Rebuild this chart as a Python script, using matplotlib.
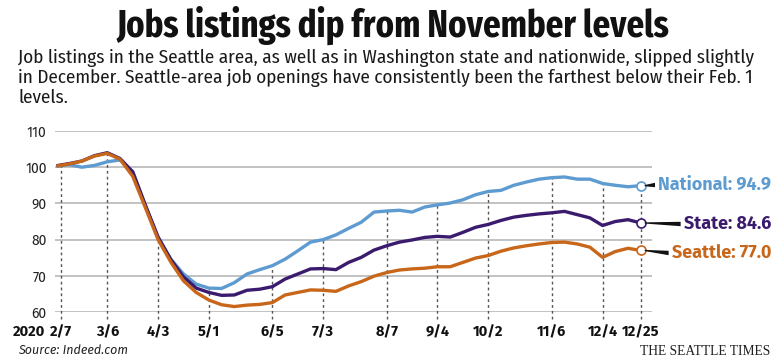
import matplotlib
matplotlib.use("Agg")
import matplotlib.pyplot as plt
from matplotlib import font_manager as fm
from matplotlib.patches import Polygon
from matplotlib.transforms import blended_transform_factory
import numpy as np

# ---------------- data ----------------
weeks = np.arange(47)
national = [100.3, 100.7, 100.0, 100.5, 101.5, 102.0, 98.8, 89.3, 80.5, 74.6,
            70.5, 67.7, 66.6, 66.5, 68.1, 70.5, 71.7, 72.8, 74.6, 76.9,
            79.3, 80.0, 81.3, 83.1, 84.8, 87.6, 87.9, 88.1, 87.6, 89.0,
            89.6, 90.1, 91.0, 92.4, 93.3, 93.6, 95.0, 95.9, 96.7, 97.1,
            97.3, 96.7, 96.7, 95.5, 95.0, 94.6, 94.9]
state = [100.4, 101.0, 101.7, 103.2, 104.0, 102.4, 98.7, 89.5, 80.7, 74.5,
         69.7, 66.6, 65.4, 64.6, 64.7, 66.0, 66.3, 67.0, 69.1, 70.5,
         71.9, 72.0, 71.7, 73.7, 75.1, 77.1, 78.3, 79.3, 79.9, 80.6,
         80.9, 80.7, 82.0, 83.4, 84.2, 85.3, 86.2, 86.7, 87.1, 87.4,
         87.8, 86.9, 86.0, 83.9, 85.0, 85.5, 84.6]
seattle = [100.3, 100.9, 101.7, 103.1, 103.8, 102.2, 97.5, 88.8, 80.0, 73.8,
           68.6, 65.4, 63.3, 62.0, 61.5, 61.9, 62.1, 62.6, 64.7, 65.4,
           66.1, 66.0, 65.7, 67.2, 68.4, 69.9, 70.9, 71.6, 71.9, 72.1,
           72.5, 72.5, 73.7, 74.9, 75.6, 76.8, 77.7, 78.3, 78.8, 79.2,
           79.3, 78.8, 77.9, 75.1, 76.7, 77.6, 77.0]
tick_labels = ["2/7", "3/6", "4/3", "5/1", "6/5", "7/3", "8/7", "9/4",
               "10/2", "11/6", "12/4", "12/25"]
tick_weeks = [0.35, 4, 8, 12, 17, 21, 26, 30, 34, 39, 43, 46]
y_ticks = [60, 70, 80, 90, 100, 110]
series_names = ["National", "State", "Seattle"]
series_colors = ["#5d9bd0", "#3b1b6e", "#c8661a"]

title = "Jobs listings dip from November levels"
subtitle = ["Job listings in the Seattle area, as well as in Washington state and nationwide, slipped slightly",
            "in December. Seattle-area job openings have consistently been the farthest below their Feb. 1",
            "levels."]

# ---------------- fonts ----------------
available = {f.name for f in fm.fontManager.ttflist}


def pick(*cands):
    for c in cands:
        if c in available:
            return c
    return "DejaVu Sans"


TF = pick("Fira Sans Extra Condensed", "Fira Sans Condensed", "Ubuntu Condensed",
          "Asap Condensed", "Archivo Narrow", "Open Sans")
CF = pick("Fira Sans Condensed", "Ubuntu Condensed", "Asap Condensed",
          "Archivo Narrow", "Open Sans")
SF = pick("Fira Sans", "Open Sans")
SERIF = pick("Liberation Serif", "DejaVu Serif")

W, H = 780, 364
fig = plt.figure(figsize=(W / 100, H / 100), dpi=100)
fig.patch.set_facecolor("white")


def P(x, y):
    return (x / W, 1 - y / H)


ax_left, ax_right, ax_top, ax_bot = 55, 652, 131, 312
ax = fig.add_axes([ax_left / W, 1 - ax_bot / H, (ax_right - ax_left) / W, (ax_bot - ax_top) / H])
ax.set_xlim(-0.118, 46.89)
ax.set_ylim(60, 110)
for s in ax.spines.values():
    s.set_visible(False)
ax.set_facecolor("none")
for yv in y_ticks:
    ax.axhline(yv, color="#bdbdbd", lw=1.3, zorder=1)

allmax = np.max(np.vstack([national, state, seattle]), axis=0)
for tw in tick_weeks:
    top = np.interp(tw, weeks, allmax)
    ax.plot([tw, tw], [58.2, top], color="#555555", lw=1.0, ls=(0, (2, 2.2)),
            zorder=2, clip_on=False)

for vals, c, z in zip([national, state, seattle], series_colors, [3, 4, 5]):
    ax.plot(weeks, vals, color=c, lw=2.4, zorder=z, solid_joinstyle="round",
            solid_capstyle="butt")
    ax.plot([weeks[-1]], [vals[-1]], marker="o", ms=6.5, mfc="white", mec=c,
            mew=1.2, zorder=7, clip_on=False)

ax.set_yticks(y_ticks)
ax.set_yticklabels([str(v) for v in y_ticks], family=SF, fontsize=10, color="#222222")
ax.tick_params(axis="y", length=0, pad=6)
ax.set_xticks([])

btr = blended_transform_factory(ax.transData, fig.transFigure)
for tw, lab in zip(tick_weeks, tick_labels):
    ax.text(tw, 1 - 336.5 / H, lab, transform=btr, family=SF, fontsize=10.5,
            fontweight="bold", color="#111111", ha="center", va="baseline")

fig.text(*P(13, 336.5), "2020", family=SF, fontsize=10.5, fontweight="bold",
         color="#111111", ha="left", va="baseline")

# title and subtitle
t_title = fig.text(*P(393, 37), title, family=TF, fontsize=26, fontweight="bold",
                   ha="center", va="baseline", color="#111111")
sub_texts = []
for i, line in enumerate(subtitle):
    sub_texts.append(fig.text(*P(18, 63 + 20 * i), line, family=CF, fontsize=12,
                              ha="left", va="baseline", color="#1a1a1a"))

t_src = fig.text(*P(18, 354), "Source: Indeed.com", family=SF, fontsize=9, style="italic",
                 ha="left", va="baseline", color="#222222")
t_st = fig.text(*P(770, 355), "THE SEATTLE TIMES", family=SERIF, fontsize=9,
                ha="right", va="baseline", color="#222222")

r = fig.canvas.get_renderer()


def fit(t, target):
    w = t.get_window_extent(r).width
    t.set_fontsize(t.get_fontsize() * target / w)


fit(t_title, 553)
fit(sub_texts[0], 739)
for s in sub_texts[1:]:
    s.set_fontsize(sub_texts[0].get_fontsize())
fit(t_st, 130)
fit(t_src, 110)

# end labels
label_y_px = [185, 224, 253]
lab_texts = []
for name, vals, c, ly in zip(series_names, [national, state, seattle], series_colors, label_y_px):
    t = fig.text(*P(771, ly), f"{name}: {vals[-1]:.1f}", family=SF, fontsize=12.5,
                 fontweight="bold", color=c, ha="right", va="center")
    lab_texts.append(t)
fit(lab_texts[0], 113)
for t in lab_texts[1:]:
    t.set_fontsize(lab_texts[0].get_fontsize())

for t, vals, ly in zip(lab_texts, [national, state, seattle], label_y_px):
    bb = t.get_window_extent(r)
    xl = bb.x0 - 3
    mx, my = ax.transData.transform((weeks[-1], vals[-1]))
    mx = mx + 4
    yc = (H - ly)
    poly = Polygon([(mx / W, (my + 0.6) / H), (xl / W, (yc + 2.2) / H),
                    (xl / W, (yc - 2.2) / H), (mx / W, (my - 0.6) / H)],
                   closed=True, transform=fig.transFigure, facecolor="#111111",
                   edgecolor="none", zorder=6)
    fig.patches.append(poly)

fig.savefig("out.png", dpi=100, facecolor="white")
